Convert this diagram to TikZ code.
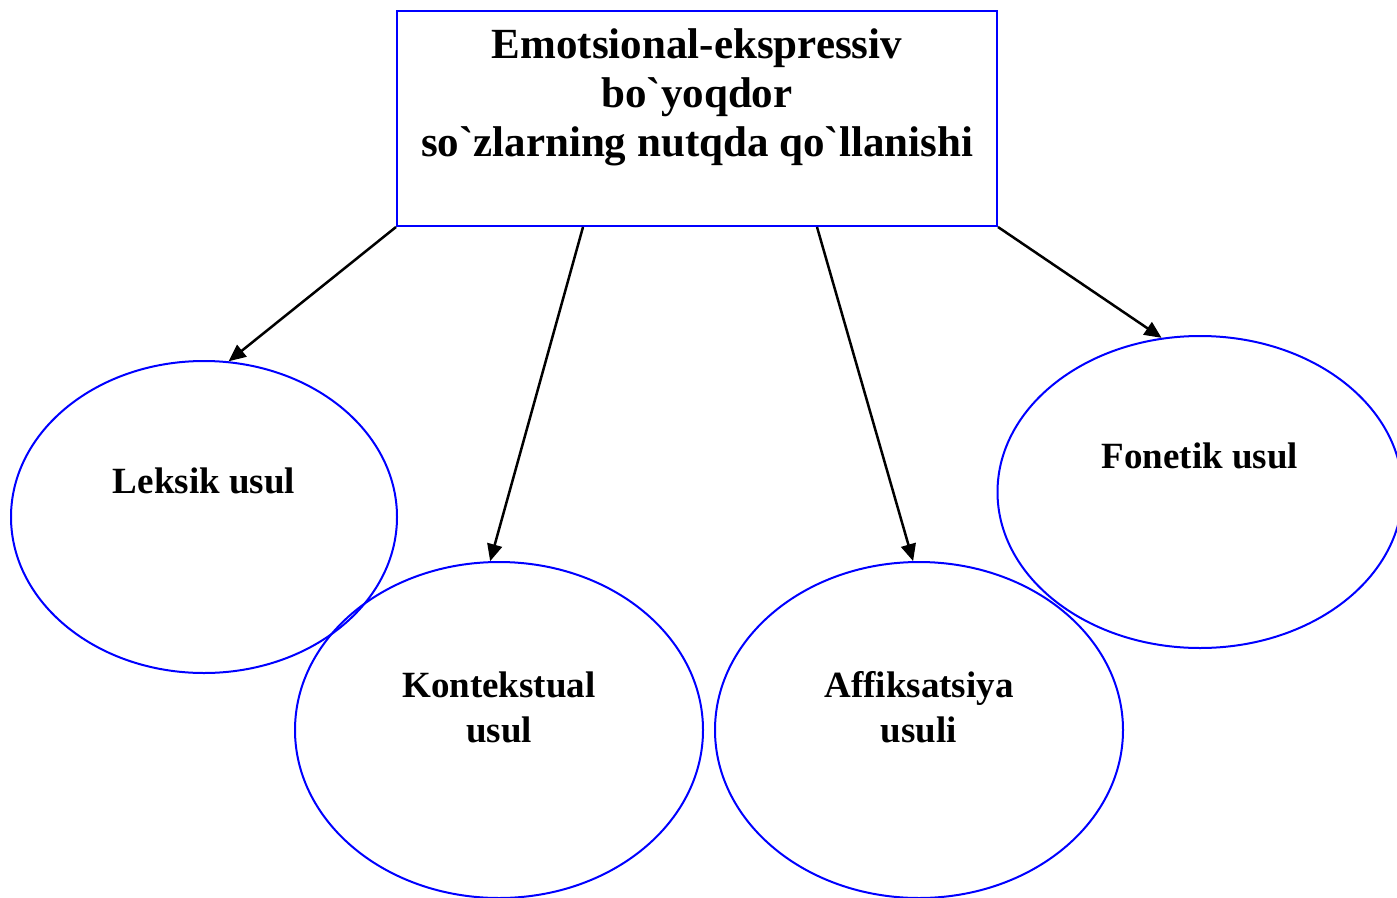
\documentclass[tikz,border=0pt]{standalone}
\usepackage{fontspec}
\setmainfont{Liberation Serif}[Ligatures=TeXOff]
\usetikzlibrary{shapes.geometric,arrows.meta}

\newcommand{\grv}{\symbol{96}}

\tikzset{
  oval/.style={draw=blue,line width=2pt,ellipse,inner sep=0pt,
    minimum width=386pt,minimum height=312pt},
  bigoval/.style={oval,minimum width=408pt,minimum height=336pt},
  heading/.style={draw=blue,line width=2pt,rectangle,inner sep=0pt,
    minimum width=600pt,minimum height=215pt},
  word/.style={align=center,inner sep=0pt,font=\fontsize{37}{45}\selectfont\bfseries},
  pointer/.style={-{Triangle[length=17pt,width=15pt]},line width=2.5pt,black}
}

\begin{document}
\begin{tikzpicture}[x=1pt,y=-1pt]
  \useasboundingbox (0,0) rectangle (1397,897);

  % the box on top
  \node[heading] (box) at (697,118.5) {};
  \node[align=center,inner sep=0pt,font=\fontsize{43}{49}\selectfont\bfseries]
    (title) at (697,97) {Emotsional-ekspressiv\\bo\grv yoqdor\\so\grv zlarning nutqda qo\grv llanishi};

  % the four ways
  \node[oval] (lek) at (204,517) {};
  \node[bigoval] (kon) at (499,730) {};
  \node[bigoval] (aff) at (919,730) {};
  \node[oval,minimum width=405pt] (fon) at (1200,492) {};

  \node[word] (lektxt) at (204,481) {Leksik usul};
  \node[word] (kontxt) at (499,707) {Kontekstual\\usul};
  \node[word] (afftxt) at (919,707) {Affiksatsiya\\usuli};
  \node[word] (fontxt) at (1200,456) {Fonetik usul};

  % arrows
  \coordinate (p1) at ([xshift=187pt]box.south west);
  \coordinate (p2) at ([xshift=421pt]box.south west);
  \draw[pointer] (box.south west) -- (lek.81);
  \draw[pointer] (p1) -- (kon.93);
  \draw[pointer] (p2) -- (aff.92);
  \draw[pointer] (box.south east) -- (fon.104);
\end{tikzpicture}
\end{document}
